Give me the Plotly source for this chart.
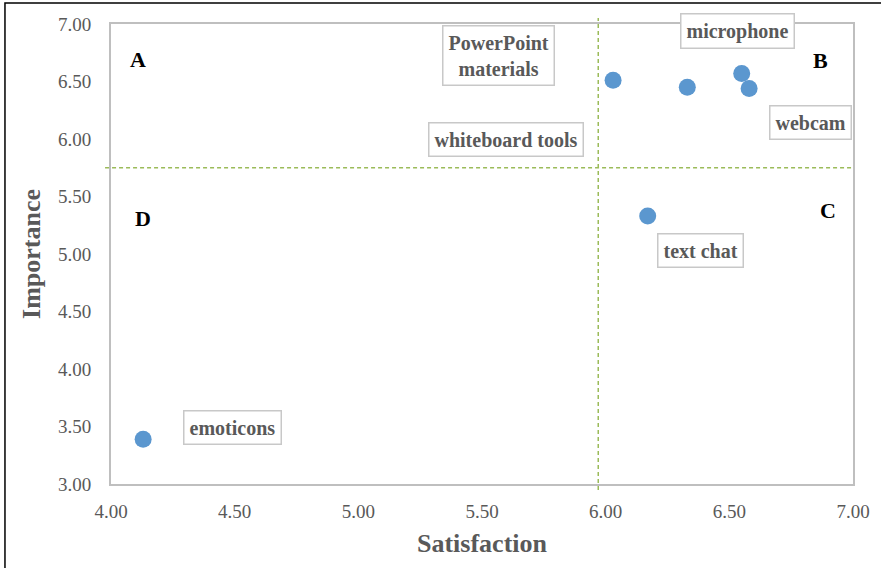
import plotly.graph_objects as go

# Data
features = ["PowerPoint materials", "whiteboard tools", "microphone", "webcam", "text chat", "emoticons"]
label_text = ["PowerPoint<br>materials", "whiteboard tools", "microphone", "webcam", "text chat", "emoticons"]
satisfaction = [6.03, 6.33, 6.55, 6.58, 6.17, 4.13]
importance = [6.51, 6.45, 6.57, 6.44, 5.33, 3.39]
label_shift_x = [-115, -181, -4, 61, 53, 89]
label_shift_y = [25, -52, 42, -34, -34, 12]

mean_satisfaction = 5.97
mean_importance = 5.75

quadrants = ["A", "B", "C", "D"]
quad_x = [4.11, 6.87, 6.90, 4.13]
quad_y = [6.69, 6.68, 5.38, 5.31]

x_range = [4.0, 7.0]
y_range = [3.0, 7.0]
tick_vals_x = [4.0, 4.5, 5.0, 5.5, 6.0, 6.5, 7.0]
tick_vals_y = [3.0, 3.5, 4.0, 4.5, 5.0, 5.5, 6.0, 6.5, 7.0]

SERIF = "Liberation Serif"
GRAY = "#595959"

fig = go.Figure()
fig.add_trace(go.Scatter(
    x=satisfaction, y=importance, mode="markers",
    marker=dict(size=17, color="#5b97cf"),
    hoverinfo="skip", showlegend=False,
))

annotations = []
for t, x, y, sx, sy in zip(label_text, satisfaction, importance, label_shift_x, label_shift_y):
    annotations.append(dict(
        x=x, y=y, xref="x", yref="y", text=t, showarrow=False,
        xshift=sx, yshift=sy,
        font=dict(family=SERIF, size=20, color=GRAY, weight="bold"),
        bgcolor="white", bordercolor="#c8c8c8", borderwidth=1.5, borderpad=5,
    ))
for q, x, y in zip(quadrants, quad_x, quad_y):
    annotations.append(dict(
        x=x, y=y, xref="x", yref="y", text="<b>%s</b>" % q, showarrow=False,
        font=dict(family=SERIF, size=22, color="black"),
    ))

# reference lines (paper coords computed from axis range, extending slightly beyond plot)
px_v = (mean_satisfaction - x_range[0]) / (x_range[1] - x_range[0])
py_h = (mean_importance - y_range[0]) / (y_range[1] - y_range[0])
shapes = [
    dict(type="line", xref="paper", yref="paper", x0=px_v, x1=px_v, y0=-0.013, y1=1.013,
         line=dict(color="#9bbb59", width=1.5, dash="4px,3px")),
    dict(type="line", xref="paper", yref="paper", x0=-0.008, x1=1.0, y0=py_h, y1=py_h,
         line=dict(color="#9bbb59", width=1.5, dash="4px,3px")),
    dict(type="rect", xref="paper", yref="paper", x0=-0.1429, x1=1.06, y0=-0.2, y1=1.0457,
         line=dict(color="black", width=1.5)),
]

fig.update_layout(
    width=881, height=568,
    margin=dict(l=111, r=28, t=24, b=84),
    paper_bgcolor="white", plot_bgcolor="white",
    annotations=annotations, shapes=shapes,
    xaxis=dict(range=x_range, tickvals=tick_vals_x, tickformat=".2f",
               showgrid=False, zeroline=False, showline=True, mirror=True,
               linecolor="#bfbfbf", linewidth=2, ticks="", ticklabelstandoff=9,
               tickfont=dict(family=SERIF, size=19, color=GRAY),
               title=dict(text="<b>Satisfaction</b>", font=dict(family=SERIF, size=26, color=GRAY), standoff=13)),
    yaxis=dict(range=y_range, tickvals=tick_vals_y, tickformat=".2f",
               showgrid=False, zeroline=False, showline=True, mirror=True,
               linecolor="#bfbfbf", linewidth=2, ticks="", ticklabelstandoff=14,
               tickfont=dict(family=SERIF, size=19, color=GRAY),
               title=dict(text="<b>Importance</b>", font=dict(family=SERIF, size=26, color=GRAY), standoff=10)),
)

fig.write_html("out.html", config={"displayModeBar": False},
               post_script="document.body.style.margin='0';document.body.style.overflow='hidden';")
